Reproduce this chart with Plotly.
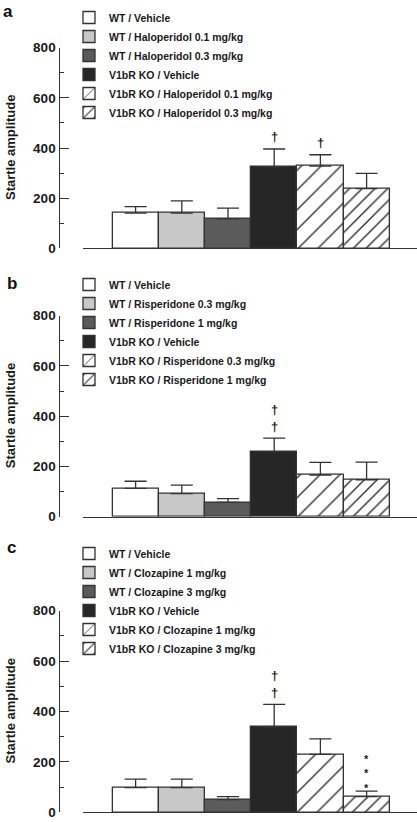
import plotly.graph_objects as go

# ---------------- data ----------------
panel_letters = ["a", "b", "c"]
groups_a = ["WT / Vehicle", "WT / Haloperidol 0.1 mg/kg", "WT / Haloperidol 0.3 mg/kg",
            "V1bR KO / Vehicle", "V1bR KO / Haloperidol 0.1 mg/kg", "V1bR KO / Haloperidol 0.3 mg/kg"]
groups_b = ["WT / Vehicle", "WT / Risperidone 0.3 mg/kg", "WT / Risperidone 1 mg/kg",
            "V1bR KO / Vehicle", "V1bR KO / Risperidone 0.3 mg/kg", "V1bR KO / Risperidone 1 mg/kg"]
groups_c = ["WT / Vehicle", "WT / Clozapine 1 mg/kg", "WT / Clozapine 3 mg/kg",
            "V1bR KO / Vehicle", "V1bR KO / Clozapine 1 mg/kg", "V1bR KO / Clozapine 3 mg/kg"]

values_a = [140, 140, 117, 325, 328, 238]
errors_a = [26, 49, 43, 71, 45, 61]
values_b = [113, 92, 57, 259, 166, 147]
errors_b = [28, 34, 15, 54, 50, 70]
values_c = [98, 98, 50, 338, 230, 62]
errors_c = [34, 34, 12, 90, 61, 22]

marks_a = ["", "", "", "†", "†", ""]
marks_b = ["", "", "", "†<br>†", "", ""]
marks_c = ["", "", "", "†<br>†", "", "*<br>*<br>*"]

y_ticks = [0, 200, 400, 600, 800]
y_title = "Startle amplitude"

# ---------------- styles ----------------
W, H = 417, 822
FONT = "Liberation Sans, Arial, Helvetica, sans-serif"
EDGE = "#333333"
TXT = "#1a1a1a"
fills = ["#ffffff", "#c8c8c8", "#5b5b5b", "#262626", "#ffffff", "#ffffff"]
patterns = [None, None, None, None,
            dict(shape="/", size=14, solidity=0.1, fgcolor=EDGE, bgcolor="#ffffff"),
            dict(shape="/", size=9, solidity=0.155, fgcolor=EDGE, bgcolor="#ffffff")]


def fx(px):  # window pixel x -> paper fraction
    return px / W


def fy(py):  # window pixel y -> paper fraction
    return 1 - py / H


# window-pixel geometry of each panel: (y of 800, y of 0)
panel_px = [(47.7, 248.3), (315.7, 516.7), (610.7, 812.3)]
legend_top_px = [3, 270, 539]
letter_px = [(8, 12), (12, 283), (11, 547)]
title_x_px = 10
mark_shift = {"†": 3, "†<br>†": 2, "*<br>*<br>*": -5}

panels = [(groups_a, values_a, errors_a, marks_a),
          (groups_b, values_b, errors_b, marks_b),
          (groups_c, values_c, errors_c, marks_c)]

fig = go.Figure()
layout = dict(template="none", width=W, height=H, margin=dict(l=0, r=0, t=0, b=0, pad=0),
              paper_bgcolor="white", plot_bgcolor="white",
              barmode="overlay", bargap=0, showlegend=True,
              font=dict(family=FONT, color=TXT))
annotations = []

axis_px, x_left_px, x_right_px = 58.5, 83, 417
bar0_left_px, bar_unit_px = 112.5, 46.2
x0 = -0.5 - (bar0_left_px - x_left_px) / bar_unit_px
x1 = x0 + (x_right_px - x_left_px) / bar_unit_px

for p, (groups, vals, errs, marks) in enumerate(panels):
    sfx = "" if p == 0 else str(p + 1)
    top_px, bot_px = panel_px[p]
    dom = [fy(bot_px), fy(top_px)]
    leg = "legend" + sfx
    for i, (g, v, e) in enumerate(zip(groups, vals, errs)):
        marker = dict(color=fills[i], line=dict(color=EDGE, width=1.3))
        if patterns[i] is not None:
            marker["pattern"] = patterns[i]
        fig.add_trace(go.Bar(
            x=[i], y=[v], width=1, name=g, marker=marker,
            error_y=dict(type="data", array=[e], arrayminus=[0], symmetric=False,
                         color=EDGE, thickness=1.3, width=11),
            xaxis="x" + sfx, yaxis="y" + sfx, legend=leg, showlegend=True,
            hoverinfo="skip",
        ))
        if marks[i]:
            annotations.append(dict(
                x=i, y=v + e, xref="x" + sfx, yref="y" + sfx, text=marks[i],
                showarrow=False, yanchor="bottom", yshift=mark_shift[marks[i]],
                font=dict(size=13 if "†" in marks[i] else 11, family=FONT,
                          weight="bold", color=TXT)))
    layout["xaxis" + sfx] = dict(domain=[fx(x_left_px), 1], range=[x0, x1], anchor="y" + sfx,
                                 showline=True, linecolor=EDGE, linewidth=1.3,
                                 showticklabels=False, ticks="", showgrid=False, zeroline=False,
                                 automargin=False, fixedrange=True)
    layout["yaxis" + sfx] = dict(domain=dom, range=[0, 800], anchor="free", position=fx(axis_px),
                                 showline=True, linecolor=EDGE, linewidth=1.3,
                                 ticks="inside", ticklen=9, tickwidth=1.3, tickcolor=EDGE,
                                 tickvals=y_ticks, automargin=False,
                                 minor=dict(ticks="inside", ticklen=4.5, tickwidth=1.3,
                                            tickcolor=EDGE, dtick=100, showgrid=False),
                                 tickfont=dict(size=13.5, family=FONT, weight="bold", color=TXT),
                                 showgrid=False, zeroline=False, fixedrange=True)
    annotations.append(dict(x=fx(title_x_px), y=(dom[0] + dom[1]) / 2, xref="paper", yref="paper",
                            text=y_title, textangle=-90, showarrow=False,
                            xanchor="center", yanchor="middle",
                            font=dict(size=13, family=FONT, weight="bold", color=TXT)))
    layout[leg] = dict(x=fx(69), xanchor="left", y=fy(legend_top_px[p]), yanchor="top",
                       bgcolor="rgba(0,0,0,0)", borderwidth=0,
                       font=dict(size=10.5, family=FONT, weight="bold", color=TXT),
                       traceorder="normal", itemclick=False, itemdoubleclick=False)
    lx, ly = letter_px[p]
    annotations.append(dict(x=fx(lx), y=fy(ly), xref="paper", yref="paper",
                            text=panel_letters[p], showarrow=False,
                            xanchor="center", yanchor="middle",
                            font=dict(size=17, family=FONT, weight="bold", color="#111111")))

layout["annotations"] = annotations
fig.update_layout(**layout)
fig.write_html("out.html", config={"displayModeBar": False, "staticPlot": False},
               post_script="document.body.style.margin='0px';")
